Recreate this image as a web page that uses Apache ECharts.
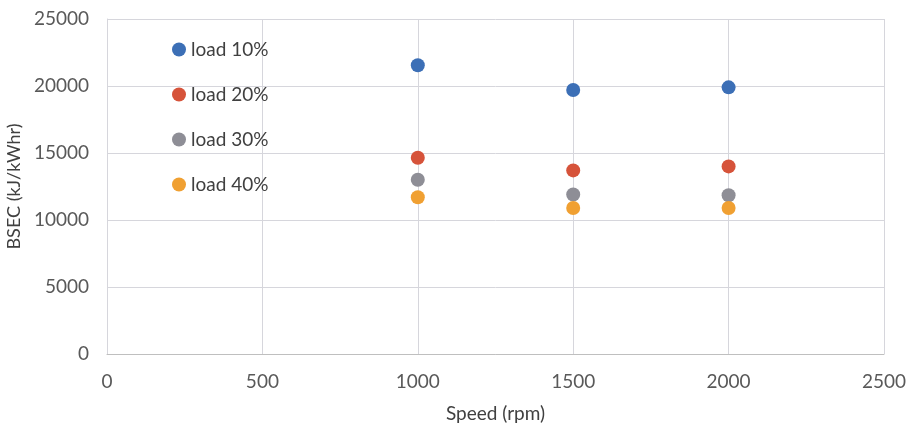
<!DOCTYPE html>
<html><head><meta charset="utf-8">
<script src="https://cdn.jsdelivr.net/npm/echarts@6/dist/echarts.min.js"></script>
<style>html,body{margin:0;padding:0;background:#fff}#c{width:907px;height:426px}</style>
</head><body><div id="c"></div>
<script>
const speeds = [1000, 1500, 2000];
const seriesNames = ['load 10%', 'load 20%', 'load 30%', 'load 40%'];
const load10 = [21550, 19700, 19900];
const load20 = [14650, 13700, 14000];
const load30 = [13000, 11900, 11850];
const load40 = [11700, 10900, 10900];
const colors = ['#3c6fb6', '#d6533a', '#8e8e96', '#f0a032'];
const allValues = [load10, load20, load30, load40];

const font = 'Lato, "Open Sans", sans-serif';
const chart = echarts.init(document.getElementById('c'));
chart.setOption({
  animation: false,
  backgroundColor: '#fff',
  grid: {left: 107, right: 23, top: 19, bottom: 72, containLabel: false, outerBoundsMode: 'none'},
  legend: {
    orient: 'vertical', left: 172, top: 40, padding: 0,
    itemWidth: 14, itemHeight: 14, itemGap: 26, itemTextGap: 5, icon: 'circle',
    textStyle: {fontFamily: font, fontSize: 19, color: '#404040'},
    data: seriesNames
  },
  xAxis: {
    type: 'value', min: 0, max: 2500, interval: 500,
    name: 'Speed (rpm)', nameLocation: 'middle', nameGap: 50,
    nameTextStyle: {fontFamily: font, fontSize: 19, color: '#404040'},
    axisLine: {show: true, lineStyle: {color: '#bfbfbf'}},
    axisTick: {show: false},
    axisLabel: {fontFamily: font, fontSize: 19, color: '#595959', margin: 18, formatter: v => String(v)},
    splitLine: {show: true, lineStyle: {color: '#d6d6dc'}}
  },
  yAxis: {
    type: 'value', min: 0, max: 25000, interval: 5000,
    name: 'BSEC (kJ/kWhr)', nameLocation: 'middle', nameGap: 79,
    nameTextStyle: {fontFamily: font, fontSize: 18, color: '#404040'},
    axisLine: {show: true, lineStyle: {color: '#d6d6dc'}},
    axisTick: {show: false},
    axisLabel: {fontFamily: font, fontSize: 19, color: '#595959', margin: 18, formatter: v => String(v)},
    splitLine: {show: true, lineStyle: {color: '#d6d6dc'}}
  },
  series: seriesNames.map((n, i) => ({
    name: n, type: 'scatter', symbol: 'circle', symbolSize: 14,
    itemStyle: {color: colors[i], opacity: 1},
    data: speeds.map((s, j) => [s, allValues[i][j]])
  }))
});
</script></body></html>
